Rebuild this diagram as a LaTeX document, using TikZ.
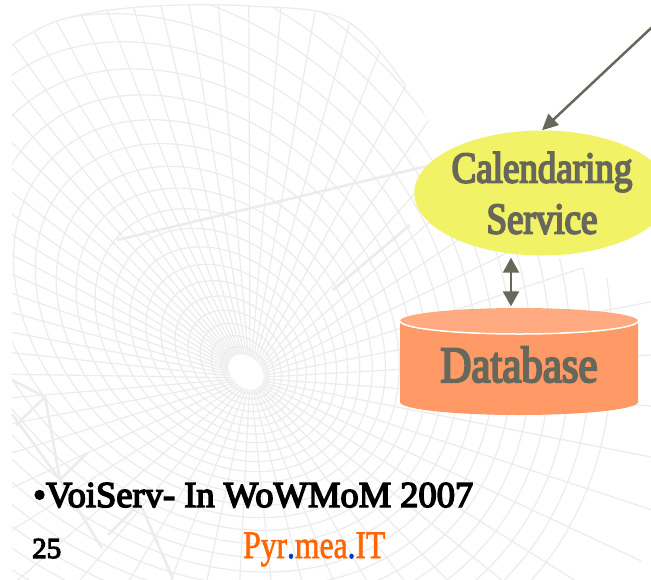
\documentclass[tikz,border=0pt]{standalone}
\usepackage{fontspec}
\setmainfont{Liberation Serif}
\newfontfamily\condfont[FakeStretch=0.84,FakeBold=4]{Liberation Serif}
\newfontfamily\narrowfont[FakeStretch=0.81,FakeBold=1.5]{Liberation Serif}
\newfontfamily\heavyfont[FakeBold=4]{Liberation Serif}
\usetikzlibrary{arrows.meta,shapes.geometric}
\definecolor{meshgray}{HTML}{ECECEC}
\definecolor{labelgray}{HTML}{68685A}
\definecolor{calyellow}{HTML}{F2F266}
\definecolor{dbbody}{HTML}{FF9966}
\definecolor{dbface}{HTML}{FFAA80}
\definecolor{pyrorange}{HTML}{FF6600}
\definecolor{pyrblue}{HTML}{0033CC}
\begin{document}
\begin{tikzpicture}[x=1pt,y=-1pt,
  declare function={
    mx(\p,\q)=250-0.2*\p+0.7071*\p*cos(\q)-0.53*\p*sin(\q);
    my(\p,\q)=378-0.3*\p+0.7071*\p*cos(\q)+0.53*\p*sin(\q);},
  mesh/.style={meshgray, line width=1.2pt},
  mount/.style={meshgray, line width=2.6pt},
  calnode/.style={ellipse, fill=calyellow, minimum width=250pt, minimum height=125pt,
    inner sep=0pt, align=center, text=labelgray,
    font=\condfont\fontsize{44}{51}\selectfont},
  dbnode/.style={minimum width=238pt, minimum height=107pt, inner sep=0pt,
    text height=41pt, text depth=0pt, text=labelgray,
    font=\condfont\fontsize{51}{56}\selectfont},
  link/.style={labelgray, line width=2.5pt, -{Triangle[length=16pt,width=15pt]}},
  duplex/.style={labelgray, line width=2.3pt,
    {Triangle[length=15pt,width=16pt]}-{Triangle[length=15pt,width=16pt]}},
  plain/.style={inner sep=0pt, anchor=base west},
]
\fill[white] (0,0) rectangle (651,579);
\useasboundingbox (0,0) rectangle (651,579);

% dish mesh in the background
\begin{scope}
  \clip (12,590) -- plot[smooth, tension=0.6] coordinates
    {(12,45) (60,20) (140,7) (250,6) (345,20) (405,85) (455,160) (530,240) (600,275) (665,300)}
    -- (665,590) -- cycle;
  \foreach \k [evaluate=\k as \rr using 18+8*\k+0.45*\k*\k] in {1,...,26}
    \draw[mesh] plot[domain=0:360, samples=73, smooth, variable=\t]
      ({mx(\rr,\t)},{my(\rr,\t)});
  \foreach \a in {0,6,...,354}
    \draw[mesh] plot[domain=20:650, samples=30, smooth, variable=\t]
      ({mx(\t,\a)},{my(\t,\a)});
  \draw[mount] (117,240) -- (440,163);
  \draw[mount] (333,290) -- (410,225);
\end{scope}
\draw[mesh] plot[smooth, tension=0.6] coordinates
    {(12,45) (60,20) (140,7) (250,6) (345,20) (405,85)};
% mount under the dish
\draw[mount] (12,380) -- (45,397) -- (60,480);
\draw[mount] (45,397) -- (16,425);
\draw[mount] (12,414) -- (60,480) -- (102,548);
\draw[mount] (60,480) -- (87,453);
\draw[mount] (108,535) -- (140,503) -- (173,579);

% calendaring service
\node[calnode] (cal) at (542,193) {Calendaring\\Service};
\coordinate (src) at (665,15);
\draw[link] (src) -- (cal.north);

% database cylinder
\fill[dbbody] (400,321) -- (400,402)
  arc[start angle=180, end angle=0, x radius=119, y radius=13]
  -- (638,321) -- cycle;
\fill[dbface] (519,321) ellipse[x radius=119, y radius=13];
\draw[white, line width=1.5pt] (400,321)
  arc[start angle=180, end angle=0, x radius=119, y radius=13];
\node[dbnode] (db) at (519,361.5) {Database};

\draw[duplex, shorten <=2pt, shorten >=1.5pt]
  ([xshift=-31pt]cal.south) -- ([xshift=-8pt]db.north);

% footer texts
\node[plain, font=\heavyfont\fontsize{36.5}{40}\selectfont] (cite) at (33,507)
  {\textbullet VoiServ- In WoWMoM 2007};
\node[plain, font=\heavyfont\fontsize{29}{34}\selectfont] (pnum) at (32,558) {25};
\node[plain, font=\narrowfont\fontsize{39}{44}\selectfont, text=pyrorange] (brand) at (243,558)
  {Pyr\textcolor{pyrblue}{.}mea\textcolor{pyrblue}{.}IT};
\end{tikzpicture}
\end{document}
